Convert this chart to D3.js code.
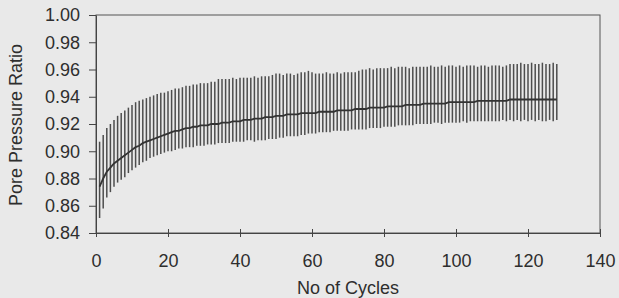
<!DOCTYPE html>
<html>
<head>
<meta charset="utf-8">
<script src="https://cdn.jsdelivr.net/npm/d3@7.9.0/dist/d3.min.js"></script>
<style>
    html, body { margin: 0; padding: 0; background: #e9e9e9; }
    svg { display: block; font-family: 'Liberation Sans', Arial, sans-serif; }
    .axis text { font-size: 18px; fill: #2e2e2e; }
    .axis path, .axis line { stroke: #444; }
</style>
</head>
<body>
<div id="chart"></div>
<script>
// pore pressure ratio per loading cycle: peak, trough and mean trace
const cycles = d3.range(1, 129);

const upper = [
    0.907, 0.912, 0.917, 0.920, 0.923, 0.926, 0.928, 0.930, 0.932, 0.934,
    0.936, 0.937, 0.938, 0.939, 0.940, 0.941, 0.942, 0.943, 0.943, 0.944,
    0.945, 0.946, 0.946, 0.947, 0.948, 0.948, 0.949, 0.949, 0.950, 0.950,
    0.950, 0.951, 0.951, 0.953, 0.953, 0.953, 0.953, 0.954, 0.953, 0.954,
    0.954, 0.954, 0.954, 0.955, 0.954, 0.955, 0.955, 0.955, 0.956, 0.957,
    0.957, 0.956, 0.957, 0.957, 0.956, 0.957, 0.958, 0.958, 0.959, 0.958,
    0.957, 0.957, 0.957, 0.958, 0.957, 0.957, 0.958, 0.957, 0.958, 0.958,
    0.958, 0.958, 0.959, 0.960, 0.960, 0.961, 0.960, 0.961, 0.961, 0.961,
    0.961, 0.962, 0.961, 0.962, 0.962, 0.962, 0.961, 0.962, 0.962, 0.962,
    0.962, 0.962, 0.963, 0.962, 0.962, 0.963, 0.962, 0.963, 0.963, 0.962,
    0.963, 0.962, 0.963, 0.963, 0.963, 0.962, 0.963, 0.963, 0.962, 0.963,
    0.963, 0.963, 0.962, 0.963, 0.964, 0.964, 0.964, 0.965, 0.964, 0.964,
    0.965, 0.964, 0.964, 0.965, 0.964, 0.964, 0.965, 0.964
];

const lower = [
    0.851, 0.858, 0.866, 0.870, 0.874, 0.877, 0.879, 0.881, 0.884, 0.886,
    0.888, 0.890, 0.892, 0.893, 0.895, 0.896, 0.897, 0.898, 0.899, 0.900,
    0.900, 0.901, 0.902, 0.902, 0.903, 0.903, 0.903, 0.904, 0.904, 0.904,
    0.905, 0.905, 0.905, 0.906, 0.906, 0.906, 0.906, 0.907, 0.907, 0.907,
    0.907, 0.908, 0.908, 0.907, 0.908, 0.908, 0.908, 0.909, 0.909, 0.909,
    0.910, 0.910, 0.911, 0.911, 0.911, 0.911, 0.912, 0.912, 0.913, 0.913,
    0.913, 0.914, 0.914, 0.914, 0.914, 0.915, 0.915, 0.915, 0.915, 0.915,
    0.916, 0.916, 0.916, 0.916, 0.916, 0.917, 0.917, 0.917, 0.917, 0.918,
    0.918, 0.918, 0.918, 0.919, 0.919, 0.919, 0.919, 0.919, 0.920, 0.920,
    0.920, 0.920, 0.920, 0.921, 0.921, 0.920, 0.921, 0.921, 0.921, 0.921,
    0.921, 0.922, 0.921, 0.922, 0.922, 0.922, 0.922, 0.922, 0.922, 0.922,
    0.922, 0.922, 0.923, 0.922, 0.923, 0.922, 0.923, 0.922, 0.923, 0.922,
    0.923, 0.922, 0.923, 0.922, 0.922, 0.923, 0.922, 0.923
];

const middle = [
    0.874, 0.880, 0.885, 0.888, 0.891, 0.893, 0.895, 0.897, 0.899, 0.901,
    0.903, 0.904, 0.906, 0.907, 0.908, 0.909, 0.910, 0.911, 0.912, 0.913,
    0.914, 0.915, 0.915, 0.916, 0.917, 0.917, 0.918, 0.918, 0.919, 0.919,
    0.919, 0.920, 0.920, 0.920, 0.921, 0.921, 0.921, 0.922, 0.922, 0.922,
    0.923, 0.923, 0.923, 0.924, 0.924, 0.924, 0.925, 0.925, 0.925, 0.926,
    0.926, 0.926, 0.927, 0.927, 0.927, 0.927, 0.928, 0.928, 0.928, 0.928,
    0.928, 0.929, 0.929, 0.929, 0.929, 0.929, 0.930, 0.930, 0.930, 0.930,
    0.930, 0.931, 0.931, 0.931, 0.931, 0.932, 0.932, 0.932, 0.932, 0.932,
    0.933, 0.933, 0.933, 0.933, 0.933, 0.934, 0.934, 0.934, 0.934, 0.934,
    0.935, 0.935, 0.935, 0.935, 0.935, 0.935, 0.935, 0.936, 0.936, 0.936,
    0.936, 0.936, 0.936, 0.936, 0.936, 0.937, 0.937, 0.937, 0.937, 0.937,
    0.937, 0.937, 0.937, 0.937, 0.938, 0.938, 0.938, 0.938, 0.938, 0.938,
    0.938, 0.938, 0.938, 0.938, 0.938, 0.938, 0.938, 0.938
];

const xTicks = [0, 20, 40, 60, 80, 100, 120, 140];
const yTicks = [0.84, 0.86, 0.88, 0.90, 0.92, 0.94, 0.96, 0.98, 1.00];

const width = 619;
const height = 298;
const margin = { top: 15, right: 19, bottom: 65, left: 96 };

const usableArea = {
    top: margin.top,
    right: width - margin.right,
    bottom: height - margin.bottom,
    left: margin.left,
    width: width - margin.left - margin.right,
    height: height - margin.top - margin.bottom,
};

const xScale = d3.scaleLinear().domain([0, 140]).range([usableArea.left, usableArea.right]);
const yScale = d3.scaleLinear().domain([0.84, 1.0]).range([usableArea.bottom, usableArea.top]);

const svg = d3
    .select('#chart')
    .append('svg')
    .attr('width', width)
    .attr('height', height);

// plot area frame (top + right edges show in the original)
svg.append('rect')
    .attr('x', usableArea.left)
    .attr('y', usableArea.top)
    .attr('width', usableArea.width)
    .attr('height', usableArea.height)
    .attr('fill', 'none')
    .attr('stroke', '#555')
    .attr('stroke-width', 1);

const records = cycles.map((c, i) => ({ cycle: c, hi: upper[i], lo: lower[i], mid: middle[i] }));

// one vertical swing per cycle
svg.append('g')
    .attr('class', 'swings')
    .selectAll('line')
    .data(records)
    .join('line')
    .attr('x1', (d) => xScale(d.cycle))
    .attr('x2', (d) => xScale(d.cycle))
    .attr('y1', (d) => yScale(d.lo))
    .attr('y2', (d) => yScale(d.hi))
    .attr('stroke', '#4d4d4d')
    .attr('stroke-width', 1.5);

// mean trace through the middle
svg.append('path')
    .datum(records)
    .attr('fill', 'none')
    .attr('stroke', '#333')
    .attr('stroke-width', 1.8)
    .attr('d', d3.line().x((d) => xScale(d.cycle)).y((d) => yScale(d.mid)));

// y axis
svg.append('g')
    .attr('class', 'axis')
    .attr('transform', `translate(${usableArea.left}, 0)`)
    .call(
        d3.axisLeft(yScale)
            .tickValues(yTicks)
            .tickFormat(d3.format('.2f'))
            .tickSizeInner(7)
            .tickSizeOuter(0)
            .tickPadding(9)
    );

// x axis, ticks cross the line
const xAxis = svg.append('g')
    .attr('class', 'axis')
    .attr('transform', `translate(0, ${usableArea.bottom})`)
    .call(
        d3.axisBottom(xScale)
            .tickValues(xTicks)
            .tickFormat(d3.format('d'))
            .tickSizeInner(4)
            .tickSizeOuter(0)
            .tickPadding(17)
    );
xAxis.selectAll('.tick line').attr('y1', -4);

svg.append('text')
    .attr('x', xScale(70))
    .attr('y', 294)
    .attr('text-anchor', 'middle')
    .attr('font-size', 18)
    .attr('fill', '#2e2e2e')
    .text('No of Cycles');

svg.append('text')
    .attr('transform', `translate(22, ${(usableArea.top + usableArea.bottom) / 2 + 1}) rotate(-90)`)
    .attr('text-anchor', 'middle')
    .attr('font-size', 18)
    .attr('fill', '#2e2e2e')
    .text('Pore Pressure Ratio');
</script>
</body>
</html>
